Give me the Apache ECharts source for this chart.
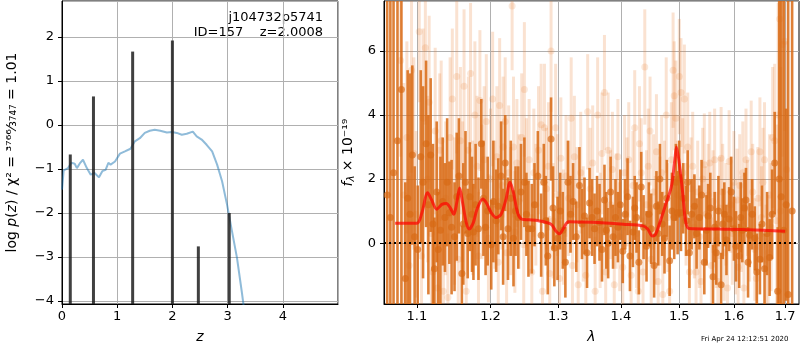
<!DOCTYPE html>
<html>
<head>
<meta charset="utf-8">
<script src="https://cdn.jsdelivr.net/npm/echarts@6/dist/echarts.min.js"></script>
<style>
  html, body { margin: 0; padding: 0; background: #fff; }
  #main { width: 800px; height: 350px; }
</style>
</head>
<body>
<div id="main"></div>
<script>
// left panel: log p(z)
var zGrid = [0, 0.03, 0.11, 0.17, 0.23, 0.27, 0.33, 0.38, 0.45, 0.52, 0.59, 0.67, 0.73, 0.79, 0.84, 0.88, 0.96,
  1.05, 1.14, 1.24, 1.32, 1.41, 1.5, 1.59, 1.68, 1.78, 1.9, 1.99, 2.08, 2.17, 2.26, 2.37, 2.44, 2.53,
  2.62, 2.72, 2.81, 2.9, 2.99, 3.08, 3.17, 3.26, 3.3]
var logPz = [-1.47, -1.03, -0.98, -0.86, -0.88, -0.98, -0.86, -0.79, -0.98, -1.13, -1.09, -1.19, -1.05, -1.02, -0.86, -0.9, -0.83,
  -0.65, -0.6, -0.54, -0.37, -0.3, -0.18, -0.13, -0.11, -0.13, -0.17, -0.16, -0.18, -0.22, -0.2, -0.15, -0.26, -0.33,
  -0.45, -0.6, -0.9, -1.28, -1.81, -2.42, -3.02, -3.82, -4.2]
var spikeZ = [0.15, 0.57, 1.28, 2.0, 2.47, 3.03]
var spikePeak = [-0.67, 0.65, 1.67, 1.92, -2.76, -2.0]

// right panel: spectrum [lambda, flux, error]
var darkPts = [
  [1.062, 1.5, 20], [1.066, 0.8, 20], [1.070, 2.2, 20], [1.075, 3.2, 20], [1.080, 4.8, 20],
  [1.085, -1.1, 3.0], [1.088, 1.4, 4.0], [1.091, 0.9, 4.4], [1.094, 2.75, 2.8], [1.097, 0.2, 2.2],
  [1.101, -0.2, 2.0], [1.105, 2.7, 2.7], [1.108, 1.9, 3.0], [1.112, 3.1, 2.6], [1.115, 1.2, 2.8],
  [1.118, 2.75, 2.4], [1.121, 0.6, 2.5], [1.123, -0.8, 1.6], [1.126, 1.6, 2.2], [1.128, -0.2, 1.8],
  [1.131, 0.4, 2.3], [1.134, 1.3, 2.0], [1.137, 0.8, 1.7], [1.140, 1.9, 2.0], [1.143, 0.95, 1.6],
  [1.146, 0.5, 2.1], [1.150, 0.2, 1.7], [1.153, 1.45, 2.0], [1.156, 2.1, 1.8], [1.160, -0.95, 1.5],
  [1.162, 0.6, 1.9], [1.165, 1.9, 1.6], [1.168, 0.3, 1.4], [1.171, 1.45, 1.7], [1.174, 0.9, 1.8],
  [1.176, 0.35, 1.5], [1.179, 1.2, 1.9], [1.183, 0.45, 1.6], [1.187, 3.1, 1.4], [1.190, 1.4, 1.8],
  [1.193, 0.5, 1.5], [1.196, 1.0, 1.7], [1.201, -0.05, 1.4], [1.204, 1.3, 1.9], [1.208, 0.7, 1.6],
  [1.211, 1.15, 1.5], [1.215, 2.1, 1.7], [1.218, 0.2, 1.5], [1.221, 2.5, 1.5], [1.225, 0.45, 1.6],
  [1.229, 1.4, 1.8], [1.233, 0.15, 1.5], [1.236, 1.0, 1.4], [1.240, 0.8, 1.6], [1.244, 1.6, 1.5],
  [1.249, 1.9, 1.4], [1.252, 0.9, 1.3], [1.255, 0.45, 1.5], [1.260, 0.45, 1.4], [1.264, 1.2, 1.3],
  [1.269, 2.1, 1.4], [1.274, 0.25, 1.3], [1.278, 1.9, 1.2], [1.281, 0.7, 1.4], [1.284, -0.4, 1.2],
  [1.289, 3.25, 1.3], [1.292, 1.1, 1.3], [1.294, -0.15, 1.2], [1.299, 0.15, 1.3], [1.303, 1.0, 1.2],
  [1.307, 0.4, 1.2], [1.311, -0.6, 1.1], [1.315, 1.9, 1.3], [1.319, 0.9, 1.2], [1.323, 1.3, 1.2],
  [1.328, 0.2, 1.1], [1.333, 1.8, 1.2], [1.337, 0.6, 1.1], [1.341, 0.85, 1.2], [1.345, -0.3, 1.1],
  [1.349, 1.25, 1.1], [1.353, 0.8, 1.2], [1.357, 0.45, 1.1], [1.361, 1.0, 1.1], [1.365, 0.65, 1.2],
  [1.369, -0.2, 1.0], [1.373, 1.35, 1.1], [1.376, 0.4, 1.2], [1.379, 0.0, 1.1], [1.383, 1.6, 1.1],
  [1.387, 0.2, 1.0], [1.391, 0.8, 1.2], [1.395, 0.5, 1.1], [1.399, 1.2, 1.1], [1.403, -0.25, 1.0],
  [1.407, 0.9, 1.1], [1.411, 1.45, 1.2], [1.415, -0.4, 1.1], [1.420, 0.35, 1.1], [1.423, 1.1, 1.0],
  [1.426, 0.8, 1.1], [1.430, -0.6, 1.0], [1.434, 1.75, 1.1], [1.438, 0.5, 1.0], [1.443, -0.1, 1.1],
  [1.447, 0.9, 1.0], [1.451, 0.45, 1.1], [1.456, -0.7, 1.0], [1.460, 1.15, 1.1], [1.463, 0.3, 1.0],
  [1.466, 2.0, 1.1], [1.470, 0.6, 1.0], [1.474, 0.15, 1.1], [1.478, 1.4, 1.2], [1.483, -0.55, 1.1],
  [1.487, 1.0, 1.2], [1.491, 0.8, 1.3], [1.494, 1.9, 1.2], [1.497, 0.95, 1.3], [1.500, 2.0, 1.2],
  [1.503, 0.95, 1.2], [1.507, 1.4, 1.1], [1.512, 0.7, 1.1], [1.515, 1.9, 1.0], [1.518, -0.3, 1.1],
  [1.522, 0.9, 1.1], [1.527, 1.15, 1.0], [1.531, 0.3, 1.1], [1.536, 0.8, 1.0], [1.540, 1.5, 1.1],
  [1.545, -0.6, 1.0], [1.549, 0.4, 1.1], [1.552, 0.85, 1.0], [1.556, 1.1, 1.1], [1.561, -1.05, 1.0],
  [1.564, 0.5, 1.1], [1.567, -0.3, 1.0], [1.571, 1.0, 1.1], [1.576, -1.3, 1.0], [1.579, 0.6, 1.1],
  [1.582, 0.9, 1.0], [1.586, 0.1, 1.1], [1.591, 0.75, 1.0], [1.595, 1.6, 1.1], [1.600, 0.45, 1.0],
  [1.604, -0.1, 1.1], [1.610, -0.4, 1.0], [1.613, 0.8, 1.1], [1.616, 0.4, 1.0], [1.620, 1.1, 1.1],
  [1.623, 1.35, 1.0], [1.627, -0.6, 1.1], [1.630, 0.25, 1.0], [1.635, 0.9, 1.1], [1.640, 0.15, 1.0],
  [1.644, -0.9, 1.2], [1.650, -0.5, 1.1], [1.654, 0.6, 1.2], [1.659, -0.8, 1.1], [1.664, 0.3, 1.3],
  [1.669, -0.45, 1.2], [1.674, 0.9, 1.4], [1.679, 2.5, 1.6], [1.685, -1.5, 2.0], [1.688, 2.0, 6.0],
  [1.692, 1.45, 8.0], [1.697, 0.4, 10], [1.702, 1.2, 3.0], [1.706, -1.6, 20], [1.714, 1.0, 20]
]
var lightPts = [
  [1.079, 5.7, 3.0], [1.083, 1.5, 3.5], [1.087, 3.3, 3.0], [1.090, -0.7, 2.8], [1.093, 5.4, 3.2],
  [1.096, 2.8, 3.0], [1.099, 0.9, 2.6], [1.103, 6.6, 2.2], [1.106, -0.4, 2.4], [1.108, 3.9, 2.8],
  [1.111, 6.1, 2.4], [1.114, 2.0, 2.6], [1.116, 4.4, 2.7], [1.119, 0.3, 2.4], [1.121, -0.9, 2.2],
  [1.124, 3.5, 2.6], [1.127, -1.4, 2.3], [1.130, 2.9, 2.4], [1.132, 3.2, 2.5], [1.135, -1.5, 2.2],
  [1.138, 1.4, 2.4], [1.141, -1.7, 2.0], [1.144, 3.3, 2.5], [1.147, 4.5, 2.2], [1.150, 1.0, 2.3],
  [1.153, 5.2, 2.4], [1.155, -0.5, 2.1], [1.158, 3.2, 2.3], [1.161, 1.6, 2.2], [1.163, 4.9, 2.4],
  [1.166, -1.5, 2.0], [1.169, 2.9, 2.3], [1.172, 5.3, 2.2], [1.175, 1.1, 2.1], [1.178, 4.0, 2.3],
  [1.181, 2.4, 2.2], [1.183, -0.4, 2.0], [1.185, 4.45, 2.2], [1.188, 1.6, 2.1], [1.191, 2.6, 2.3],
  [1.194, 3.8, 2.1], [1.197, 0.15, 2.0], [1.200, 2.0, 2.2], [1.203, 4.5, 2.1], [1.206, 1.2, 2.0],
  [1.209, 2.7, 2.2], [1.211, -0.6, 2.0], [1.213, 4.3, 2.1], [1.216, 1.8, 2.0], [1.218, 3.0, 2.2],
  [1.221, 3.8, 2.0], [1.223, -0.3, 1.9], [1.226, 2.2, 2.1], [1.229, 1.0, 2.0], [1.231, 7.4, 2.0],
  [1.233, 3.0, 2.2], [1.235, 0.35, 1.9], [1.238, 2.5, 2.0], [1.241, 1.3, 2.1], [1.245, 3.3, 2.0],
  [1.248, -0.05, 1.9], [1.249, 4.8, 2.1], [1.252, 1.9, 2.0], [1.256, 2.6, 1.9], [1.260, -0.9, 1.8],
  [1.263, 2.2, 2.0], [1.266, 1.2, 1.9], [1.270, 2.9, 2.0], [1.274, 3.7, 1.9], [1.276, -1.5, 1.8],
  [1.279, 3.6, 2.0], [1.282, 1.7, 1.9], [1.285, 2.4, 2.0], [1.287, -0.95, 1.8], [1.289, 6.0, 1.9],
  [1.292, 0.7, 1.8], [1.296, 3.6, 2.0], [1.299, 1.5, 1.9], [1.302, -1.1, 1.8], [1.304, 2.65, 1.9],
  [1.308, 0.5, 1.8], [1.312, 2.1, 1.9], [1.316, 1.4, 1.8], [1.320, 3.9, 1.9], [1.322, -0.7, 1.8],
  [1.325, 2.7, 1.9], [1.329, 1.2, 1.8], [1.331, -1.3, 1.7], [1.335, 2.2, 1.9], [1.339, 0.6, 1.8],
  [1.343, -1.0, 1.7], [1.346, 4.1, 1.8], [1.350, 1.7, 1.9], [1.354, 2.5, 1.8], [1.358, -1.5, 1.7],
  [1.362, 4.0, 1.8], [1.366, 0.4, 1.8], [1.369, 2.8, 1.9], [1.373, 4.7, 1.8], [1.375, -0.9, 1.7],
  [1.379, 2.9, 1.8], [1.383, 1.2, 1.7], [1.386, 2.3, 1.8], [1.389, -1.3, 1.7], [1.392, 1.0, 1.8],
  [1.395, 2.7, 1.8], [1.398, 0.2, 1.7], [1.403, -0.75, 1.7], [1.406, 2.2, 1.8], [1.410, 1.6, 1.7],
  [1.413, 2.6, 1.8], [1.417, -1.0, 1.7], [1.420, 1.8, 1.7], [1.423, 3.6, 1.8], [1.426, 0.3, 1.7],
  [1.429, -1.5, 1.6], [1.431, 3.1, 1.8], [1.434, 2.2, 1.7], [1.437, -0.9, 1.7], [1.440, 5.5, 1.8],
  [1.443, 1.2, 1.7], [1.446, 2.4, 1.8], [1.449, 3.5, 1.7], [1.451, -0.5, 1.7], [1.455, 1.6, 1.8],
  [1.458, 0.4, 1.7], [1.460, 2.85, 1.8], [1.463, -1.2, 1.6], [1.466, 1.0, 1.7], [1.469, 2.2, 1.8],
  [1.471, -1.6, 1.6], [1.474, 1.5, 1.7], [1.477, 4.0, 1.8], [1.480, 0.8, 1.7], [1.483, -1.5, 1.6],
  [1.486, 2.6, 1.8], [1.489, 5.4, 1.8], [1.491, 4.6, 1.7], [1.494, 3.9, 1.8], [1.497, 1.5, 1.7],
  [1.500, 5.2, 1.8], [1.503, 4.7, 1.7], [1.506, 2.2, 1.7], [1.509, 4.5, 1.7], [1.512, 0.9, 1.6],
  [1.515, 3.0, 1.7], [1.518, -0.9, 1.6], [1.521, 1.7, 1.6], [1.524, 2.4, 1.7], [1.527, 0.5, 1.6],
  [1.530, -0.9, 1.6], [1.533, 1.6, 1.6], [1.536, 0.2, 1.6], [1.539, -1.2, 1.5], [1.542, 2.0, 1.6],
  [1.545, 2.45, 1.6], [1.548, 0.9, 1.5], [1.552, 1.5, 1.6], [1.555, 2.5, 1.6], [1.558, -0.7, 1.5],
  [1.561, 1.3, 1.6], [1.564, 2.6, 1.6], [1.567, 0.1, 1.5], [1.570, -1.2, 1.5], [1.573, 1.1, 1.6],
  [1.576, 2.65, 1.6], [1.579, 1.6, 1.5], [1.582, -0.3, 1.5], [1.585, 0.9, 1.6], [1.588, -1.4, 1.5],
  [1.591, 2.55, 1.6], [1.594, 1.2, 1.5], [1.597, 0.3, 1.6], [1.600, 1.9, 1.6], [1.603, -0.1, 1.5],
  [1.606, 1.35, 1.6], [1.608, -0.75, 1.5], [1.611, 1.8, 1.6], [1.614, 0.6, 1.5], [1.617, 2.2, 1.6],
  [1.619, -1.4, 1.5], [1.623, 2.6, 1.6], [1.626, 1.1, 1.5], [1.630, 0.4, 1.6], [1.633, 2.85, 1.6],
  [1.636, 1.6, 1.5], [1.640, -0.2, 1.6], [1.643, -1.1, 1.5], [1.646, 1.4, 1.6], [1.650, 2.85, 1.7],
  [1.653, 0.8, 1.6], [1.656, 1.9, 1.7], [1.659, 2.6, 1.8], [1.662, -0.5, 1.7], [1.666, -0.3, 1.8],
  [1.669, 1.5, 1.9], [1.672, 0.5, 2.0], [1.675, 3.3, 2.2], [1.679, 3.2, 2.4], [1.683, 0.7, 3.0],
  [1.686, 4.0, 3.5], [1.689, 7.0, 3.0], [1.691, 1.0, 4.5], [1.695, 6.2, 3.5], [1.699, 6.3, 2.8],
  [1.703, 2.3, 4.0]
]
var modelLam = [1.072, 1.1, 1.1065, 1.114, 1.119, 1.126, 1.133, 1.139, 1.144, 1.149, 1.153, 1.157, 1.161,
  1.166, 1.17, 1.176, 1.181, 1.189, 1.194, 1.201, 1.208, 1.215, 1.222, 1.228, 1.233, 1.239, 1.245,
  1.256, 1.27, 1.289, 1.296, 1.302, 1.308, 1.316, 1.352, 1.404, 1.437, 1.445, 1.453, 1.458, 1.466,
  1.477, 1.486, 1.492, 1.495, 1.5, 1.506, 1.511, 1.517, 1.571, 1.629, 1.7]
var modelFlux = [0.62, 0.62, 0.95, 1.57, 1.36, 1.06, 1.21, 1.24, 1.11, 0.9, 1.26, 1.72, 1.26,
  0.65, 0.44, 0.65, 1.06, 1.38, 1.26, 0.95, 0.8, 0.9, 1.36, 1.9, 1.57, 0.95, 0.75,
  0.73, 0.7, 0.59, 0.39, 0.29, 0.46, 0.67, 0.65, 0.59, 0.54, 0.44, 0.22, 0.26, 0.65,
  1.26, 1.77, 2.59, 3.0, 2.49, 1.57, 0.7, 0.46, 0.44, 0.42, 0.37]
var lamTicks = [1.1, 1.2, 1.3, 1.4, 1.5, 1.6, 1.7]

var FONT = 'DejaVu Sans'
var GRIDC = '#b0b0b0'
var DARK = 'rgba(216,106,20,0.85)'
var LIGHT = 'rgba(232,125,45,0.22)'

function minus(v) {
  return v < 0 ? '\u2212' + Math.abs(v) : String(v)
}

// vertical error bar, clipped to the plot box
function errBar(w, color) {
  return function(params, api) {
    var cs = params.coordSys
    var x = api.value(0)
    var f = api.value(1)
    var e = api.value(2)
    var top = api.coord([x, f + e])
    var bot = api.coord([x, f - e])
    var y0 = Math.max(top[1], cs.y)
    var y1 = Math.min(bot[1], cs.y + cs.height)
    return {
      type: 'rect',
      shape: { x: top[0] - w / 2, y: y0, width: w, height: Math.max(0, y1 - y0) },
      style: { fill: color }
    }
  }
}

function spike(params, api) {
  var cs = params.coordSys
  var p = api.coord([api.value(0), api.value(1)])
  return {
    type: 'rect',
    shape: { x: p[0] - 1.5, y: p[1], width: 3, height: cs.y + cs.height - p[1] },
    style: { fill: 'rgba(30,30,30,0.85)' }
  }
}

var chart = echarts.init(document.getElementById('main'))
var axisCommon = {
  axisLine: { show: true, onZero: false, lineStyle: { color: '#000', width: 1 } },
  axisTick: { show: true, inside: false, length: 4, lineStyle: { color: '#000' } },
  splitLine: { show: true, lineStyle: { color: GRIDC, width: 1 } }
}
var option = {
  animation: false,
  backgroundColor: '#fff',
  textStyle: { fontFamily: FONT },
  grid: [
    { left: 62, top: 1, width: 276, height: 303, show: true, borderColor: '#000', borderWidth: 1, containLabel: false },
    { left: 384, top: 1, width: 415, height: 303, show: true, borderColor: '#000', borderWidth: 1, containLabel: false }
  ],
  xAxis: [
    Object.assign({}, axisCommon, {
      type: 'value', gridIndex: 0, min: 0, max: 5, interval: 1,
      axisLabel: { showMaxLabel: false, color: '#000', fontSize: 13, fontFamily: FONT, margin: 6 },
      name: 'z', nameLocation: 'middle', nameGap: 26,
      nameTextStyle: { fontSize: 14, fontStyle: 'italic', color: '#000', fontFamily: FONT }
    }),
    Object.assign({}, axisCommon, {
      type: 'log', logBase: 10, gridIndex: 1, min: 1.058, max: 1.728,
      axisTick: { show: true, length: 4, customValues: lamTicks, lineStyle: { color: '#000' } },
      axisLabel: { customValues: lamTicks, color: '#000', fontSize: 13, fontFamily: FONT, margin: 6,
        formatter: function(v) { return Number(v).toFixed(1) } },
      name: 'λ', nameLocation: 'middle', nameGap: 26,
      nameTextStyle: { fontSize: 14, fontStyle: 'italic', color: '#000', fontFamily: FONT }
    })
  ],
  yAxis: [
    Object.assign({}, axisCommon, {
      type: 'value', gridIndex: 0, min: -4.07, max: 2.82, splitNumber: 7,
      axisLabel: { showMinLabel: false, showMaxLabel: false, color: '#000', fontSize: 13, fontFamily: FONT, formatter: minus },
      name: '{n|log }{i|p}{n|(}{i|z}{n|) / χ² = ³⁷⁶⁶⁄₃₇₄₇ = 1.01}',
      nameLocation: 'middle', nameGap: 43,
      nameTextStyle: {
        color: '#000', fontFamily: FONT,
        rich: {
          n: { fontSize: 14, fontFamily: FONT, color: '#000' },
          i: { fontSize: 14, fontFamily: FONT, fontStyle: 'italic', color: '#000' }
        }
      }
    }),
    Object.assign({}, axisCommon, {
      type: 'value', gridIndex: 1, min: -1.9, max: 7.56, splitNumber: 5,
      axisLabel: { showMinLabel: false, showMaxLabel: false, color: '#000', fontSize: 13, fontFamily: FONT, formatter: minus },
      name: '{i|f}{s|λ}{n| × 10⁻¹⁹}',
      nameLocation: 'middle', nameGap: 28,
      nameTextStyle: {
        color: '#000', fontFamily: FONT,
        rich: {
          n: { fontSize: 14, fontFamily: FONT, color: '#000' },
          i: { fontSize: 14, fontFamily: FONT, fontStyle: 'italic', color: '#000' },
          s: { fontSize: 10, fontFamily: FONT, fontStyle: 'italic', color: '#000', padding: [6, 0, 0, 0] }
        }
      }
    })
  ],
  graphic: [
    { type: 'text', right: 477, top: 11, style: { text: 'j104732p5741', font: '13px "DejaVu Sans"', fill: '#000' } },
    { type: 'text', right: 477, top: 26, style: { text: 'ID=157    z=2.0008', font: '13px "DejaVu Sans"', fill: '#000' } },
    { type: 'text', left: 701, top: 336, style: { text: 'Fri Apr 24 12:12:51 2020', font: '7px "DejaVu Sans"', fill: '#000' } }
  ],
  series: [
    {
      type: 'line', xAxisIndex: 0, yAxisIndex: 0, showSymbol: false, clip: true,
      data: zGrid.map(function(z, i) { return [z, logPz[i]] }),
      lineStyle: { color: 'rgba(31,119,180,0.5)', width: 2 }, z: 2
    },
    {
      type: 'custom', xAxisIndex: 0, yAxisIndex: 0, renderItem: spike,
      data: spikeZ.map(function(z, i) { return [z, spikePeak[i]] }), z: 3
    },
    {
      type: 'custom', xAxisIndex: 1, yAxisIndex: 1, renderItem: errBar(3, LIGHT), data: lightPts, z: 2
    },
    {
      type: 'scatter', xAxisIndex: 1, yAxisIndex: 1, symbolSize: 7,
      data: lightPts.map(function(p) { return [p[0], p[1]] }),
      itemStyle: { color: LIGHT }, z: 2
    },
    {
      type: 'custom', xAxisIndex: 1, yAxisIndex: 1, renderItem: errBar(2.6, DARK), data: darkPts, z: 3
    },
    {
      type: 'scatter', xAxisIndex: 1, yAxisIndex: 1, symbolSize: 7,
      data: darkPts.map(function(p) { return [p[0], p[1]] }),
      itemStyle: { color: DARK }, z: 3
    },
    {
      type: 'line', xAxisIndex: 1, yAxisIndex: 1, showSymbol: false, smooth: 0.3,
      data: modelLam.map(function(l, i) { return [l, modelFlux[i]] }),
      lineStyle: { color: 'rgba(255,0,0,0.7)', width: 3 }, z: 4,
      markLine: {
        silent: true, symbol: 'none', label: { show: false },
        lineStyle: { color: '#000', type: [2, 3], width: 2 },
        data: [{ yAxis: 0 }]
      }
    }
  ]
}
chart.setOption(option)
</script>
</body>
</html>
